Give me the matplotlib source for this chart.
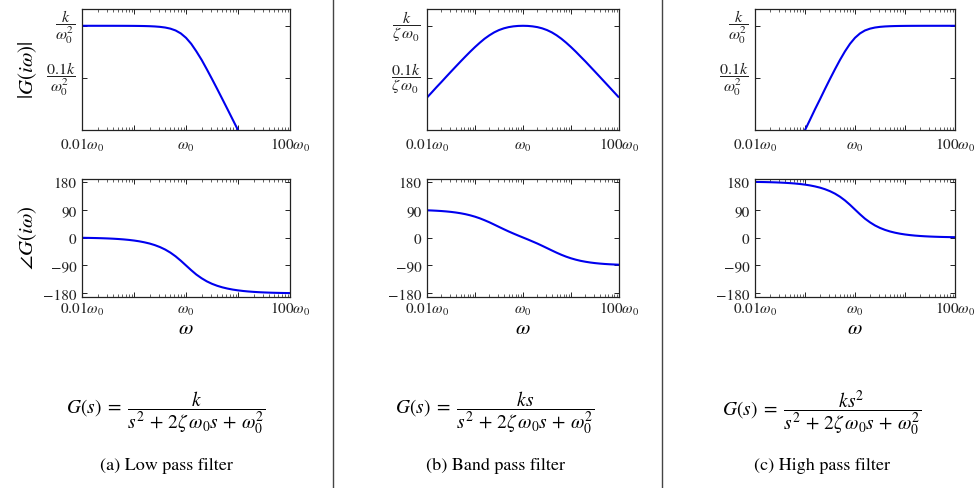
import matplotlib
matplotlib.use("Agg")
import matplotlib.pyplot as plt
from matplotlib.ticker import FixedLocator, FixedFormatter, LogLocator, NullFormatter
from matplotlib.lines import Line2D

plt.rcParams['mathtext.fontset'] = 'stix'
plt.rcParams['font.family'] = ['STIXGeneral', 'DejaVu Serif']

# ---------------- data ----------------
# frequency in units of omega_0
freq = [0.01, 0.0126, 0.0158, 0.02, 0.0251, 0.0316, 0.0398, 0.0501, 0.0631, 0.0794,
        0.1, 0.126, 0.158, 0.2, 0.251, 0.316, 0.398, 0.501, 0.631, 0.794,
        1.0, 1.26, 1.58, 2.0, 2.51, 3.16, 3.98, 5.01, 6.31, 7.94,
        10.0, 12.6, 15.8, 20.0, 25.1, 31.6, 39.8, 50.1, 63.1, 79.4, 100.0]

# magnitudes as log10 of |G| relative to the reference level (k/w0^2 or k/(zeta w0))
low_logmag = [0.000, 0.000, 0.000, -0.0001, -0.0001, -0.0002, -0.0003, -0.0005, -0.0008, -0.0012,
              -0.0019, -0.0031, -0.0049, -0.0079, -0.0127, -0.0205, -0.0334, -0.0547, -0.0899, -0.1461,
              -0.2305, -0.3461, -0.4899, -0.6547, -0.8334, -1.0205, -1.2127, -1.4079, -1.6049, -1.8031,
              -2.0019, -2.2012, -2.4008, -2.6005, -2.8003, -3.0002, -3.2001, -3.4001, -3.6, -3.8, -4.0]
band_logmag = [-1.3771, -1.2773, -1.1776, -1.0781, -0.9789, -0.8801, -0.7821, -0.6851, -0.5899, -0.4972,
               -0.4083, -0.3249, -0.2488, -0.1821, -0.1263, -0.0821, -0.0490, -0.0259, -0.0109, -0.0026,
               0.0,
               -0.0026, -0.0109, -0.0259, -0.0490, -0.0821, -0.1263, -0.1821, -0.2488, -0.3249, -0.4083,
               -0.4972, -0.5899, -0.6851, -0.7821, -0.8801, -0.9789, -1.0781, -1.1776, -1.2773, -1.3771]
high_logmag = [-4.0, -3.8, -3.6, -3.4001, -3.2001, -3.0002, -2.8003, -2.6005, -2.4008, -2.2012,
               -2.0019, -1.8031, -1.6049, -1.4079, -1.2127, -1.0205, -0.8334, -0.6547, -0.4899, -0.3461,
               -0.2305, -0.1461, -0.0899, -0.0547, -0.0334, -0.0205, -0.0127, -0.0079, -0.0049, -0.0031,
               -0.0019, -0.0012, -0.0008, -0.0005, -0.0003, -0.0002, -0.0001, -0.0001, 0.000, 0.000, 0.000]

# phases in degrees
low_phase = [-0.97, -1.23, -1.54, -1.94, -2.45, -3.08, -3.88, -4.88, -6.15, -7.74,
             -9.74, -12.27, -15.45, -19.46, -24.50, -30.85, -38.81, -48.68, -60.69, -74.71,
             -90.0, -105.29, -119.31, -131.32, -141.19, -149.15, -155.50, -160.54, -164.55, -167.73,
             -170.26, -172.26, -173.85, -175.12, -176.12, -176.92, -177.55, -178.06, -178.46, -178.77, -179.03]
band_phase = [87.59, 86.97, 86.19, 85.21, 83.97, 82.43, 80.49, 78.08, 75.10, 71.44,
              67.01, 61.75, 55.68, 48.89, 41.61, 34.13, 26.72, 19.58, 12.80, 6.31,
              0.0, -6.31, -12.80, -19.58, -26.72, -34.13, -41.61, -48.89, -55.68, -61.75,
              -67.01, -71.44, -75.10, -78.08, -80.49, -82.43, -83.97, -85.21, -86.19, -86.97, -87.59]
high_phase = [179.03, 178.77, 178.46, 178.06, 177.55, 176.92, 176.12, 175.12, 173.85, 172.26,
              170.26, 167.73, 164.55, 160.54, 155.50, 149.15, 141.19, 131.32, 119.31, 105.29,
              90.0, 74.71, 60.69, 48.68, 38.81, 30.85, 24.50, 19.46, 15.45, 12.27,
              9.74, 7.74, 6.15, 4.88, 3.88, 3.08, 2.45, 1.94, 1.54, 1.23, 0.97]

x_tick_vals = [0.01, 0.1, 1, 10, 100]
x_label_vals = [0.01, 1, 100]
x_label_texts = [r'$0.01\omega_0$', r'$\omega_0$', r'$100\omega_0$']
mag_tick_vals = [0.1, 1]
mag_tick_labels_low = [r'$\dfrac{0.1k}{\omega_0^2}$', r'$\dfrac{k}{\omega_0^2}$']
mag_tick_labels_band = [r'$\dfrac{0.1k}{\zeta\,\omega_0}$', r'$\dfrac{k}{\zeta\,\omega_0}$']
phase_ticks = [-180, -90, 0, 90, 180]
phase_tick_labels = ['\u2212180', '\u221290', '0', '90', '180']

formulas = [r'$G(s)\;=\;\dfrac{k}{s^2\,+\,2\zeta\,\omega_0 s\,+\,\omega_0^2}$',
            r'$G(s)\;=\;\dfrac{ks}{s^2\,+\,2\zeta\,\omega_0 s\,+\,\omega_0^2}$',
            r'$G(s)\;=\;\dfrac{ks^2}{s^2\,+\,2\zeta\,\omega_0 s\,+\,\omega_0^2}$']
captions = ['(a) Low pass filter', '(b) Band pass filter', '(c) High pass filter']

# ---------------- layout ----------------
W, H = 974, 489
fig = plt.figure(figsize=(W / 100, H / 100), dpi=100)

def rect(x0, x1, y0, y1):
    return [x0 / W, 1 - y1 / H, (x1 - x0) / W, (y1 - y0) / H]

cols = [(82, 290), (427, 619), (755, 955)]
top_y = (10, 131)
bot_y = (179.5, 297.5)
blue = '#0000ee'
lw_curve = 1.5
txt_col = '#222222'

mags = [low_logmag, band_logmag, high_logmag]
phases = [low_phase, band_phase, high_phase]
mag_labels = [mag_tick_labels_low, mag_tick_labels_band, mag_tick_labels_low]

def style(ax, base_gap_px):
    for s in ax.spines.values():
        s.set_linewidth(0.9)
        s.set_color(txt_col)
    ax.tick_params(which='both', direction='in', top=True, right=True, colors=txt_col,
                   labelcolor=txt_col)
    ax.tick_params(which='major', length=3.5, width=0.7, labelsize=11)
    ax.tick_params(which='minor', length=2, width=0.5)
    ax.set_xscale('log')
    ax.set_xlim(0.01, 100)
    ax.xaxis.set_major_locator(FixedLocator(x_tick_vals))
    ax.xaxis.set_major_formatter(NullFormatter())
    ax.xaxis.set_minor_locator(LogLocator(base=10, subs=range(2, 10), numticks=20))
    ax.xaxis.set_minor_formatter(NullFormatter())
    # x tick labels placed on a common baseline
    h_px = ax.get_position().height * H
    for v, t in zip(x_label_vals, x_label_texts):
        ax.text(v, -base_gap_px / h_px, t, transform=ax.get_xaxis_transform(),
                ha='center', va='baseline', fontsize=11, color=txt_col)

for i, (x0, x1) in enumerate(cols):
    ax = fig.add_axes(rect(x0, x1, *top_y))
    ax.plot(freq, [10 ** v for v in mags[i]], color=blue, lw=lw_curve, solid_capstyle='butt')
    style(ax, 19)
    ax.set_yscale('log')
    ax.set_ylim(0.01, 2.1)
    ax.yaxis.set_major_locator(FixedLocator(mag_tick_vals))
    ax.yaxis.set_major_formatter(FixedFormatter(mag_labels[i]))
    ax.yaxis.set_minor_locator(FixedLocator([]))
    ax.tick_params(axis='y', labelsize=11.5, pad=5)
    for lab in ax.get_yticklabels():
        lab.set_verticalalignment('center')

    axp = fig.add_axes(rect(x0, x1, *bot_y))
    axp.plot(freq, phases[i], color=blue, lw=lw_curve)
    style(axp, 16.5)
    axp.set_ylim(-190, 190)
    axp.yaxis.set_major_locator(FixedLocator(phase_ticks))
    axp.yaxis.set_major_formatter(FixedFormatter(phase_tick_labels))
    axp.tick_params(axis='y', pad=4)

    xc = (x0 + x1) / 2
    fig.text(xc / W, 1 - 334 / H, r'$\omega$', ha='center', va='baseline', fontsize=15)

fig.text(28 / W, 1 - 70 / H, r'$|G(i\omega)|$', rotation=90, ha='center', va='center', fontsize=15)
fig.text(28 / W, 1 - 238 / H, r'$\angle G(i\omega)$', rotation=90, ha='center', va='center', fontsize=15)

form_x = [166, 495, 822]
for i in range(3):
    fig.text(form_x[i] / W, 1 - 413 / H, formulas[i], ha='center', va='center', fontsize=14)
    fig.text(form_x[i] / W, 1 - 466 / H, captions[i], ha='center', va='center', fontsize=13)

for xs in (333, 662):
    fig.add_artist(Line2D([xs / W, xs / W], [0, 1], transform=fig.transFigure, color='#444444', lw=1))

fig.savefig('out.png', dpi=100)
